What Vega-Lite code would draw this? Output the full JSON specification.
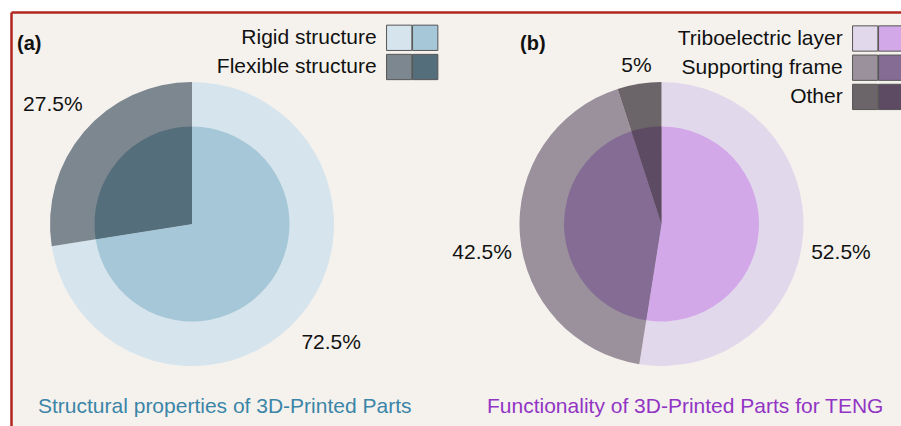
{
  "$schema": "https://vega.github.io/schema/vega-lite/v6.json",
  "width": 890,
  "height": 414,
  "autosize": "none",
  "padding": {"left": 11, "top": 12, "right": 0, "bottom": 0},
  "background": "#ffffff",
  "config": {
    "font": "Liberation Sans",
    "view": {"fill": "#f5f2ee", "stroke": null},
    "axis": {"labels": false, "ticks": false, "grid": false, "domainColor": "#b0261f", "domainWidth": 2.5},
    "legend": {"symbolStrokeColor": "#555555", "symbolStrokeWidth": 1, "labelFontSize": 21, "labelColor": "#111111", "labelLimit": 400, "symbolOpacity": 1, "symbolType": "square", "symbolSize": 640, "padding": 0, "rowPadding": -1.8}
  },
  "datasets": {
    "parts": [
      {"panel": "a", "cat": "Rigid structure", "v": 72.5, "pct": "72.5%", "k": 1},
      {"panel": "a", "cat": "Flexible structure", "v": 27.5, "pct": "27.5%", "k": 2},
      {"panel": "b", "cat": "Triboelectric layer", "v": 52.5, "pct": "52.5%", "k": 1},
      {"panel": "b", "cat": "Supporting frame", "v": 42.5, "pct": "42.5%", "k": 2},
      {"panel": "b", "cat": "Other", "v": 5, "pct": "5%", "k": 3}
    ],
    "texts": [
      {"panel": "a", "tag": "(a)", "caption": "Structural properties of 3D-Printed Parts"},
      {"panel": "b", "tag": "(b)", "caption": "Functionality of 3D-Printed Parts for TENG"}
    ]
  },
  "encoding": {
    "x": {"field": "panel", "type": "nominal", "scale": {"domain": ["a", "b"], "padding": 0.4478, "align": 0.43044}, "axis": {"orient": "top", "title": null}}
  },
  "layer": [
    {
      "data": {"name": "parts"},
      "transform": [{"filter": "datum.panel == 'a'"}],
      "mark": {"type": "arc", "outerRadius": 142},
      "encoding": {
        "y": {"datum": "pie", "type": "nominal", "scale": {"domain": ["tag", "pie", "caption"], "padding": 0.13736, "align": 0.6}, "axis": {"orient": "left", "title": null}},
        "theta": {"field": "v", "type": "quantitative", "stack": true},
        "order": {"field": "k", "type": "quantitative"},
        "color": {"field": "cat", "type": "nominal", "scale": {"domain": ["Rigid structure", "Flexible structure"], "range": ["#d6e4ed", "#7c8790"]}, "legend": {"orient": "none", "legendX": 374.7, "legendY": 12.3, "title": null, "labelAlign": "right", "labelOffset": -36}}
      }
    },
    {
      "data": {"name": "parts"},
      "transform": [{"filter": "datum.panel == 'a'"}],
      "mark": {"type": "arc", "outerRadius": 97.5},
      "encoding": {
        "y": {"datum": "pie", "type": "nominal", "axis": {"orient": "left", "title": null}},
        "theta": {"field": "v", "type": "quantitative", "stack": true},
        "order": {"field": "k", "type": "quantitative"},
        "color": {"field": "cat", "type": "nominal", "scale": {"domain": ["Rigid structure", "Flexible structure"], "range": ["#a6c7d8", "#556e7b"]}, "legend": {"orient": "none", "legendX": 400.7, "legendY": 12.3, "title": null, "labelExpr": "''"}}
      }
    },
    {
      "data": {"name": "parts"},
      "transform": [{"filter": "datum.panel == 'a'"}],
      "mark": {"type": "text", "radius": 183, "fontSize": 21, "color": "#111111"},
      "encoding": {
        "y": {"datum": "pie", "type": "nominal", "axis": {"orient": "left", "title": null}},
        "theta": {"field": "v", "type": "quantitative", "stack": true},
        "order": {"field": "k", "type": "quantitative"},
        "detail": {"field": "cat", "type": "nominal"},
        "text": {"field": "pct", "type": "nominal"}
      }
    },
    {
      "data": {"name": "parts"},
      "transform": [{"filter": "datum.panel == 'b'"}],
      "mark": {"type": "arc", "outerRadius": 142},
      "encoding": {
        "y": {"datum": "pie", "type": "nominal", "axis": {"orient": "left", "title": null}},
        "theta": {"field": "v", "type": "quantitative", "stack": true},
        "order": {"field": "k", "type": "quantitative"},
        "color": {"field": "cat", "type": "nominal", "scale": {"domain": ["Triboelectric layer", "Supporting frame", "Other"], "range": ["#e2d8eb", "#9a919d", "#6b6469"]}, "legend": {"orient": "none", "legendX": 840.7, "legendY": 13, "title": null, "labelAlign": "right", "labelOffset": -36}}
      }
    },
    {
      "data": {"name": "parts"},
      "transform": [{"filter": "datum.panel == 'b'"}],
      "mark": {"type": "arc", "outerRadius": 97.5},
      "encoding": {
        "y": {"datum": "pie", "type": "nominal", "axis": {"orient": "left", "title": null}},
        "theta": {"field": "v", "type": "quantitative", "stack": true},
        "order": {"field": "k", "type": "quantitative"},
        "color": {"field": "cat", "type": "nominal", "scale": {"domain": ["Triboelectric layer", "Supporting frame", "Other"], "range": ["#d3a8e8", "#846c95", "#5d4a63"]}, "legend": {"orient": "none", "legendX": 866.7, "legendY": 13, "title": null, "labelExpr": "''"}}
      }
    },
    {
      "data": {"name": "parts"},
      "transform": [{"filter": "datum.panel == 'b'"}],
      "mark": {"type": "text", "radius": 180, "dy": 15, "fontSize": 21, "color": "#111111"},
      "encoding": {
        "y": {"datum": "pie", "type": "nominal", "axis": {"orient": "left", "title": null}},
        "theta": {"field": "v", "type": "quantitative", "stack": true},
        "order": {"field": "k", "type": "quantitative"},
        "detail": {"field": "cat", "type": "nominal"},
        "text": {"field": "pct", "type": "nominal", "condition": {"test": "datum.k == 3", "value": ""}}
      }
    },
    {
      "data": {"name": "parts"},
      "transform": [{"filter": "datum.panel == 'b'"}],
      "mark": {"type": "text", "radius": 160, "fontSize": 21, "color": "#111111"},
      "encoding": {
        "y": {"datum": "pie", "type": "nominal", "axis": {"orient": "left", "title": null}},
        "theta": {"field": "v", "type": "quantitative", "stack": true},
        "order": {"field": "k", "type": "quantitative"},
        "detail": {"field": "cat", "type": "nominal"},
        "text": {"field": "pct", "type": "nominal", "condition": {"test": "datum.k != 3", "value": ""}}
      }
    },
    {
      "data": {"name": "texts"},
      "transform": [{"filter": "datum.panel == 'a'"}],
      "mark": {"type": "text", "align": "left", "baseline": "alphabetic", "dx": -175, "dy": 8, "fontSize": 20, "fontWeight": "bold", "color": "#111111"},
      "encoding": {
        "y": {"datum": "tag", "type": "nominal", "axis": {"orient": "left", "title": null}},
        "text": {"field": "tag", "type": "nominal"}
      }
    },
    {
      "data": {"name": "texts"},
      "transform": [{"filter": "datum.panel == 'b'"}],
      "mark": {"type": "text", "align": "left", "baseline": "alphabetic", "dx": -141.5, "dy": 8, "fontSize": 20, "fontWeight": "bold", "color": "#111111"},
      "encoding": {
        "y": {"datum": "tag", "type": "nominal", "axis": {"orient": "left", "title": null}},
        "text": {"field": "tag", "type": "nominal"}
      }
    },
    {
      "data": {"name": "texts"},
      "transform": [{"filter": "datum.panel == 'a'"}],
      "mark": {"type": "text", "align": "left", "baseline": "alphabetic", "dx": -154, "dy": 7, "fontSize": 21, "color": "#3b85a7"},
      "encoding": {
        "y": {"datum": "caption", "type": "nominal", "axis": {"orient": "left", "title": null}},
        "text": {"field": "caption", "type": "nominal"}
      }
    },
    {
      "data": {"name": "texts"},
      "transform": [{"filter": "datum.panel == 'b'"}],
      "mark": {"type": "text", "align": "left", "baseline": "alphabetic", "dx": -174.5, "dy": 7, "fontSize": 21, "color": "#9235c4"},
      "encoding": {
        "y": {"datum": "caption", "type": "nominal", "axis": {"orient": "left", "title": null}},
        "text": {"field": "caption", "type": "nominal"}
      }
    }
  ],
  "resolve": {"scale": {"color": "independent"}, "legend": {"color": "independent"}}
}
